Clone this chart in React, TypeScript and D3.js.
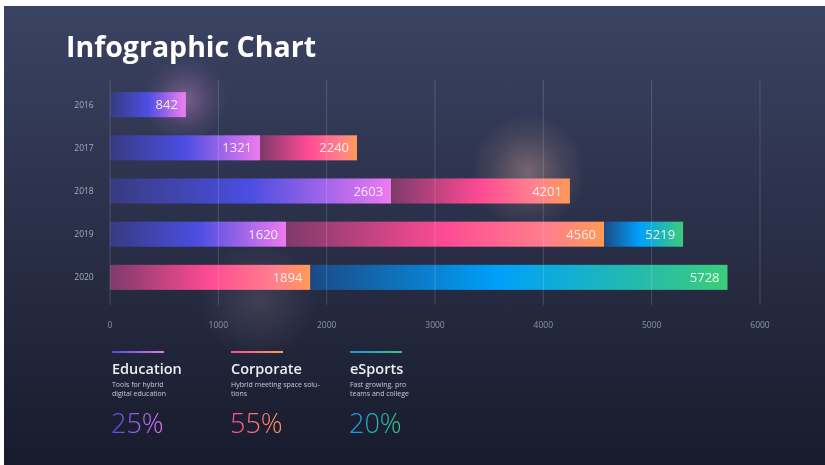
import React from 'react';
import * as d3 from 'd3';

const years = ['2016', '2017', '2018', '2019', '2020'];
// where each segment ends on the axis, as drawn (0 = no segment)
const educationEnd = [700, 1385, 2595, 1625, 0];
const corporateEnd = [0, 2280, 4245, 4560, 1850];
const esportsEnd = [0, 0, 0, 5290, 5700];
// printed labels on the segments
const educationLabel = ['842', '1321', '2603', '1620', ''];
const corporateLabel = ['', '2240', '4201', '4560', '1894'];
const esportsLabel = ['', '', '', '5219', '5728'];
const xTicks = [0, 1000, 2000, 3000, 4000, 5000, 6000];

const legend = [
  {id: 'edu', title: 'Education', lines: ['Tools for hybrid', 'digital education'], pct: '25%', c0: '#4a4de0', c1: '#e576f0'},
  {id: 'corp', title: 'Corporate', lines: ['Hybrid meeting space solu-', 'tions'], pct: '55%', c0: '#ff4a92', c1: '#ff9a55'},
  {id: 'esp', title: 'eSports', lines: ['Fast growing, pro', 'teams and college'], pct: '20%', c0: '#1596f0', c1: '#35c97a'},
];
const legendX = [112, 231, 350];

const W = 825;
const H = 465;

export default function App() {
  const x = d3.scaleLinear().domain([0, 6000]).range([110, 760]);
  const y = d3.scaleBand<string>().domain(years).range([74, 308]).paddingInner(0.42).paddingOuter(0.42);
  const bw = y.bandwidth();

  type Seg = {year: string; x0: number; x1: number; label: string; grad: string};
  const segs: Seg[] = [];
  years.forEach((yr, i) => {
    let start = 0;
    if (educationEnd[i] > 0) {
      segs.push({year: yr, x0: start, x1: educationEnd[i], label: educationLabel[i], grad: 'gEdu'});
      start = educationEnd[i];
    }
    if (corporateEnd[i] > 0) {
      segs.push({year: yr, x0: start, x1: corporateEnd[i], label: corporateLabel[i], grad: 'gCorp'});
      start = corporateEnd[i];
    }
    if (esportsEnd[i] > 0) {
      segs.push({year: yr, x0: start, x1: esportsEnd[i], label: esportsLabel[i], grad: 'gEsp'});
    }
  });

  const glows = [
    {cx: 185, cy: 100, r: 42, color: '#e08ae0', o: 0.3},
    {cx: 528, cy: 172, r: 58, color: '#f5b8a0', o: 0.28},
    {cx: 258, cy: 300, r: 60, color: '#c8a8b8', o: 0.17},
  ];

  return (
    <svg width={W} height={H} style={{position: 'absolute', left: 0, top: 0}}>
      <defs>
        <linearGradient id="bg" x1="0" y1="0" x2="0" y2="1">
          <stop offset="0%" stopColor="#3b4363" />
          <stop offset="100%" stopColor="#181b2c" />
        </linearGradient>
        <linearGradient id="gEdu">
          <stop offset="0%" stopColor="#373b80" />
          <stop offset="50%" stopColor="#4b4ee2" />
          <stop offset="100%" stopColor="#ef7af0" />
        </linearGradient>
        <linearGradient id="gCorp">
          <stop offset="0%" stopColor="#7e3a6c" />
          <stop offset="50%" stopColor="#ff4b93" />
          <stop offset="82%" stopColor="#ff7f8c" />
          <stop offset="100%" stopColor="#ff9a55" />
        </linearGradient>
        <linearGradient id="gEsp">
          <stop offset="0%" stopColor="#1b4a85" />
          <stop offset="45%" stopColor="#00a0fa" />
          <stop offset="100%" stopColor="#3ccc7a" />
        </linearGradient>
        {legend.map((l) => (
          <linearGradient key={l.id} id={'lg' + l.id}>
            <stop offset="0%" stopColor={l.c0} />
            <stop offset="100%" stopColor={l.c1} />
          </linearGradient>
        ))}
        {glows.map((g, i) => (
          <radialGradient key={i} id={'glow' + i}>
            <stop offset="0%" stopColor={g.color} stopOpacity={g.o} />
            <stop offset="100%" stopColor={g.color} stopOpacity={0} />
          </radialGradient>
        ))}
      </defs>

      <rect width={W} height={H} fill="#fff" />
      <rect x={4} y={6} width={W - 4} height={H - 6} fill="url(#bg)" />

      <text x={66} y={57} fill="#fff" fontFamily="'Open Sans', sans-serif" fontWeight={700} fontSize={28.5}>
        Infographic Chart
      </text>

      {glows.map((g, i) => (
        <circle key={i} cx={g.cx} cy={g.cy} r={g.r} fill={`url(#glow${i})`} />
      ))}

      {segs.map((s, i) => (
        <g key={i}>
          <rect x={x(s.x0)} y={y(s.year)} width={x(s.x1) - x(s.x0)} height={bw} fill={`url(#${s.grad})`} />
          <text
            x={x(s.x1) - 8}
            y={y(s.year)! + bw / 2 + 4.5}
            textAnchor="end"
            fill="rgba(255,255,255,0.86)"
            fontFamily="'Open Sans', sans-serif"
            fontSize={13}
          >
            {s.label}
          </text>
        </g>
      ))}

      {glows.slice(0, 2).map((g, i) => (
        <circle key={'o' + i} cx={g.cx} cy={g.cy} r={g.r * 0.6} fill={`url(#glow${i})`} opacity={0.35} style={{mixBlendMode: 'screen'}} />
      ))}

      {xTicks.map((t) => (
        <g key={t}>
          <line x1={x(t)} x2={x(t)} y1={80} y2={305} stroke="rgba(255,255,255,0.16)" strokeWidth={1} />
          <text x={x(t)} y={328} textAnchor="middle" fill="#8f95aa" fontFamily="'Open Sans', sans-serif" fontSize={8.5}>
            {t}
          </text>
        </g>
      ))}

      {years.map((yr) => (
        <text key={yr} x={84} y={y(yr)! + bw / 2 + 3} textAnchor="middle" fill="#a6acbe" fontFamily="'Open Sans', sans-serif" fontSize={8.5}>
          {yr}
        </text>
      ))}

      {legend.map((l, i) => {
        const lx = legendX[i];
        return (
          <g key={l.id}>
            <rect x={lx} y={351} width={52} height={2} fill={`url(#lg${l.id})`} />
            <text x={lx} y={374} fill="#eceef4" fontFamily="'Open Sans', sans-serif" fontWeight={600} fontSize={14.5}>
              {l.title}
            </text>
            {l.lines.map((ln, j) => (
              <text key={j} x={lx} y={387 + j * 9} fill="#c5c9d6" fontFamily="'Open Sans', sans-serif" fontSize={7}>
                {ln}
              </text>
            ))}
            <text x={lx - 1} y={433} fill={`url(#lg${l.id})`} fontFamily="'Open Sans', sans-serif" fontWeight={300} fontSize={27}>
              {l.pct}
            </text>
          </g>
        );
      })}
    </svg>
  );
}
